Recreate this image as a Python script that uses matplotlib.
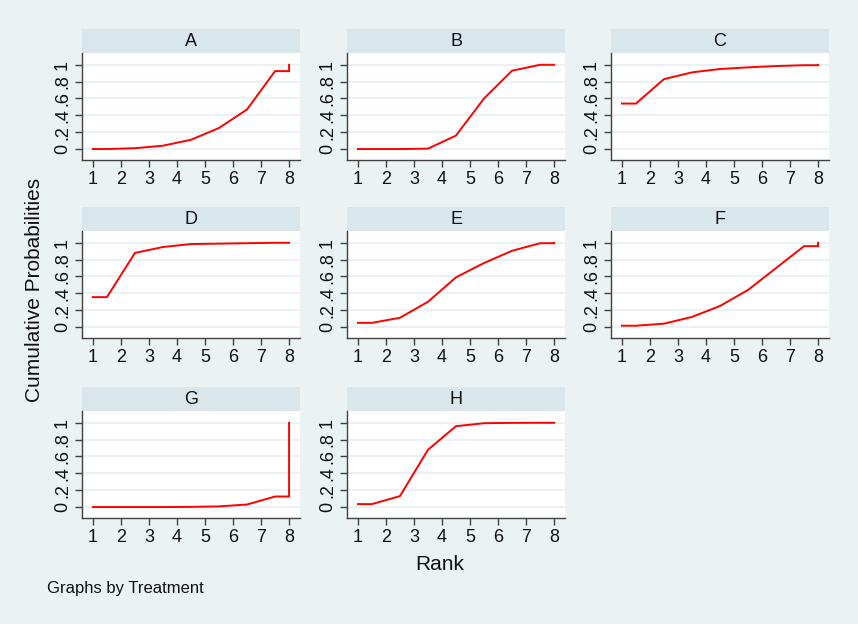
import numpy as np
import matplotlib.pyplot as plt

plt.rcParams['font.family'] = ['Liberation Sans', 'DejaVu Sans']

# cumulative probability of being ranked k or better (k = 1..8)
treatments = ['A', 'B', 'C', 'D', 'E', 'F', 'G', 'H']
ranks = np.arange(1, 9)
cum_A = [0.0, 0.01, 0.04, 0.11, 0.25, 0.47, 0.925, 1.0]
cum_B = [0.0, 0.0, 0.005, 0.16, 0.60, 0.93, 1.0, 1.0]
cum_C = [0.54, 0.83, 0.91, 0.95, 0.97, 0.985, 0.995, 1.0]
cum_D = [0.355, 0.88, 0.95, 0.985, 0.99, 0.995, 1.0, 1.0]
cum_E = [0.05, 0.11, 0.30, 0.59, 0.76, 0.905, 0.995, 1.0]
cum_F = [0.016, 0.04, 0.12, 0.25, 0.44, 0.70, 0.96, 1.0]
cum_G = [0.0, 0.0, 0.0, 0.002, 0.008, 0.03, 0.125, 1.0]
cum_H = [0.035, 0.13, 0.68, 0.96, 0.995, 0.999, 1.0, 1.0]
cum_all = [cum_A, cum_B, cum_C, cum_D, cum_E, cum_F, cum_G, cum_H]

yticks = [0, 0.2, 0.4, 0.6, 0.8, 1.0]
ytick_labels = ['0', '.2', '.4', '.6', '.8', '1']

BG = '#eaf2f3'
STRIP = '#d9e6eb'
GRID = '#eaf2f3'
AXC = '#404040'

W, H = 858, 624
fig = plt.figure(figsize=(W / 100, H / 100), dpi=100, facecolor=BG)

col_left = [82, 347, 611]
strip_top = [29, 207, 387]
pw, sh, ph = 218, 24, 107


def rect(x, y, w, h):
    return [x / W, 1 - (y + h) / H, w / W, h / H]


for i, (name, cum) in enumerate(zip(treatments, cum_all)):
    r, c = divmod(i, 3)
    x0, y0 = col_left[c], strip_top[r]

    # header strip
    sax = fig.add_axes(rect(x0, y0, pw, sh))
    sax.set_facecolor(STRIP)
    sax.set_xticks([]); sax.set_yticks([])
    for s in sax.spines.values():
        s.set_visible(False)
    sax.text(0.5, 0.5, name, ha='center', va='center', fontsize=13, color='#111111')

    ax = fig.add_axes(rect(x0, y0 + sh, pw, ph))
    ax.set_facecolor('white')
    cum = np.asarray(cum)
    xs = np.concatenate([[ranks[0]], ranks[:-1] + 0.5, [ranks[-1], ranks[-1]]])
    ys = np.concatenate([[cum[0]], cum[:-1], [cum[-2], cum[-1]]])
    ax.plot(xs, ys, color='#ff0000', lw=1.4, solid_joinstyle='miter')

    ax.set_xlim(0.61, 8.39)
    ax.set_ylim(-0.13, 1.14)
    ax.set_xticks(ranks)
    ax.set_yticks(yticks)
    ax.set_yticklabels(ytick_labels, rotation=90, va='center')
    ax.tick_params(labelsize=13, colors=AXC, labelcolor='#111111',
                   length=5, width=1, direction='out', pad=3)
    for g in yticks:
        ax.axhline(g, color=GRID, lw=1.5, zorder=0)
    for s in ['top', 'right']:
        ax.spines[s].set_visible(False)
    for s in ['left', 'bottom']:
        ax.spines[s].set_color(AXC)
        ax.spines[s].set_linewidth(1)

fig.text(35 / W, 1 - 290 / H, 'Cumulative Probabilities', rotation=90,
         ha='center', va='center', fontsize=15, color='#111111')
fig.text(440 / W, 1 - 565 / H, 'Rank', ha='center', va='center',
         fontsize=15, color='#111111')
fig.text(47 / W, 1 - 588 / H, 'Graphs by Treatment', ha='left', va='center',
         fontsize=12, color='#111111')

fig.savefig('out.png', dpi=100, facecolor=BG)
